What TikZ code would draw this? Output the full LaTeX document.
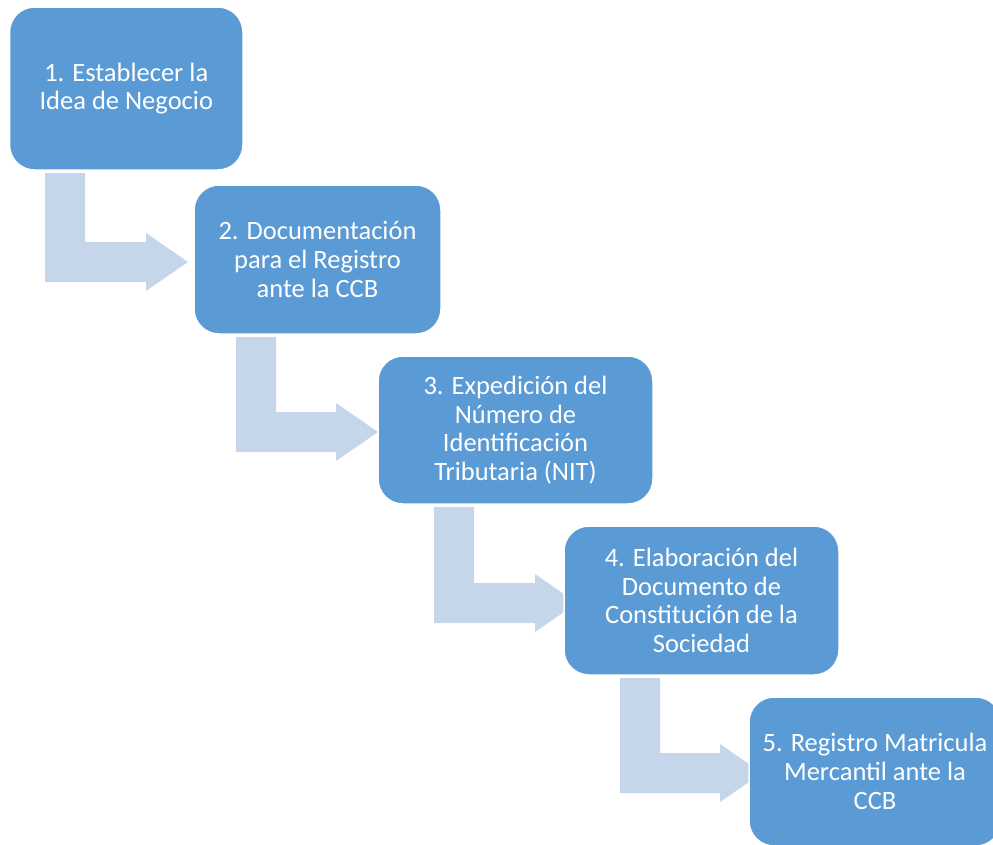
\documentclass[tikz,border=0pt]{standalone}
\usepackage{fontspec}
\setmainfont{Carlito}
\begin{document}
\begin{tikzpicture}[x=1pt,y=-1pt,
  stepbox/.style={rectangle, rounded corners=25pt, fill=boxblue, draw=white,
    line width=1.5pt, inner sep=0pt, align=center, text=white,
    font=\fontsize{26.5}{28.7}\selectfont},
  bentarrow/.style={fill=arrowblue, draw=none}]
\definecolor{boxblue}{HTML}{5B9BD5}
\definecolor{arrowblue}{HTML}{C5D5EA}
\useasboundingbox (0,0) rectangle (993,844);
\clip (0,0) rectangle (993,844);

% bent arrow: left x, top y, bar top y, head start x, tip x (bar 40 wide, head 58 tall)
\newcommand\bendarrow[5]{%
  \fill[arrowblue] (#1,#2) -- (#1+40,#2) -- (#1+40,#3) -- (#4,#3) -- (#4,#3-9)
    -- (#5,#3+20) -- (#4,#3+49) -- (#4,#3+40) -- (#1,#3+40) -- cycle;}

\bendarrow{45}{173}{242}{146}{188}
\bendarrow{236}{337}{412}{336}{378}
\bendarrow{434}{507}{583}{535}{577}
\bendarrow{620}{678}{753}{720}{762}

\node[stepbox, minimum width=233.5pt, minimum height=163pt] (s1) at (126.25,88.5)
  {1. Establecer la\\Idea de Negocio};
\node[stepbox, minimum width=247pt, minimum height=149pt] (s2) at (317.5,259.5)
  {2. Documentación\\para el Registro\\ante la CCB};
\node[stepbox, minimum width=275pt, minimum height=148pt] (s3) at (515.5,430)
  {3. Expedición del\\Número de\\Identificación\\Tributaria (NIT)};
\node[stepbox, minimum width=275pt, minimum height=149pt] (s4) at (701.5,600.5)
  {4. Elaboración del\\Documento de\\Constitución de la\\Sociedad};
\node[stepbox, minimum width=252pt, minimum height=149pt] (s5) at (875,771.5)
  {5. Registro Matricula\\Mercantil ante la\\CCB};
\end{tikzpicture}
\end{document}
